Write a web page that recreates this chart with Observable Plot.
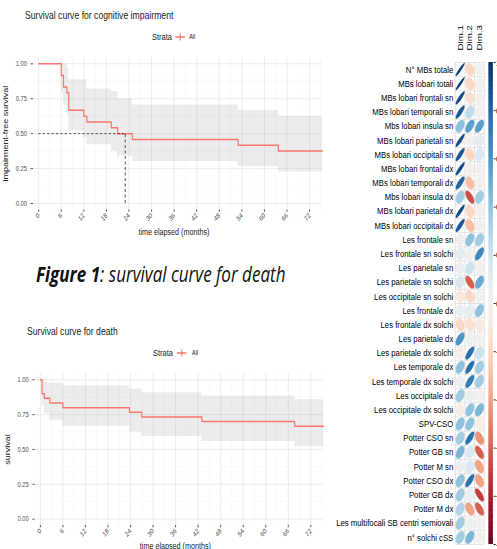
<!DOCTYPE html>
<html><head><meta charset="utf-8">
<script src="https://cdn.jsdelivr.net/npm/d3@7"></script>
<script src="https://cdn.jsdelivr.net/npm/@observablehq/plot@0.6"></script>
<style>
html,body{margin:0;padding:0;background:#fff;overflow:hidden;width:497px;height:549px;}
#stage{position:absolute;left:0;top:0;width:621.25px;height:549px;transform:scaleX(0.8);transform-origin:0 0;font-family:"Liberation Sans",Arial,sans-serif;}
.abs{position:absolute;white-space:nowrap;line-height:1;transform:translateY(-50%);}
.panel{position:absolute;}
</style></head><body><div id="stage"></div>
<script>
// ---------- data: survival curve for cognitive impairment ----------
const cogTimes = [0, 6.0, 6.6, 7.5, 8.0, 12.0, 12.8, 19.3, 21.0, 24.9, 53.0, 63.7];
const cogSurv  = [1, 0.917, 0.833, 0.792, 0.667, 0.625, 0.583, 0.542, 0.5, 0.458, 0.417, 0.375];
const cogUpper = [1, 1, 1, 0.97, 0.885, 0.885, 0.82, 0.80, 0.75, 0.705, 0.665, 0.625];
const cogLower = [1, 0.79, 0.70, 0.64, 0.52, 0.47, 0.42, 0.37, 0.34, 0.30, 0.265, 0.225];
const cogMedian = 23;
// ---------- data: survival curve for death ----------
const deathTimes = [0, 0.44, 1.06, 2.5, 6.0, 23.7, 27.0, 43.0, 67.7];
const deathSurv  = [1, 0.9, 0.867, 0.833, 0.8, 0.767, 0.733, 0.7, 0.667];
const deathUpper = [1, 1, 0.976, 0.976, 0.957, 0.933, 0.907, 0.883, 0.857];
const deathLower = [1, 0.81, 0.757, 0.71, 0.667, 0.626, 0.593, 0.557, 0.519];
const followUpEnd = 75.4;
// ---------- axis ticks ----------
const monthTicks = [0, 6, 12, 18, 24, 30, 36, 42, 48, 54, 60, 66, 72];
const monthMinor = [3, 9, 15, 21, 27, 33, 39, 45, 51, 57, 63, 69, 75];
const survTicks = [0, 0.25, 0.5, 0.75, 1];
const survMinor = [0.125, 0.375, 0.625, 0.875];
// ---------- data: correlation plot ----------
const rowLabels = ["N° MBs totale","MBs lobari totali","MBs lobari frontali sn","MBs lobari temporali sn","Mbs lobari insula sn","MBs lobari parietali sn","MBs lobari occipitali sn","MBs lobari frontali dx","MBs lobari temporali dx","Mbs lobari insula dx","MBs lobari parietali dx","MBs lobari occipitali dx","Les frontale sn","Les frontale sn solchi","Les parietale sn","Les parietale sn solchi","Les occipitale sn solchi","Les frontale dx","Les frontale dx solchi","Les parietale dx","Les parietale dx solchi","Les temporale dx","Les temporale dx solchi","Les occipitale dx","Les occipitale dx solchi","SPV-CSO","Potter CSO sn","Potter GB sn","Potter M sn","Potter CSO dx","Potter GB dx","Potter M dx","Les multifocali SB centri semiovali","n° solchi cSS"];
const dimLabels = ["Dim.1","Dim.2","Dim.3"];
const dim1 = [0.95,0.95,0.9,0.85,0.4,0.9,0.85,0.9,0.8,0.35,0.9,0.85,0.03,0.1,0.05,0.15,-0.1,0.05,-0.2,0.6,-0.05,0.4,0.05,0.35,-0.05,0.4,0.35,0.45,0.05,0.4,0.35,0.3,0.35,0.35];
const dim2 = [-0.2,-0.2,-0.15,0.25,0.55,0.0,-0.2,-0.05,-0.3,-0.65,-0.2,-0.3,0.4,0.03,0.2,-0.6,-0.2,0.1,-0.15,0.03,0.75,0.75,0.7,0.05,0.4,0.4,0.75,0.15,0.15,0.75,0.05,-0.4,0.02,0.45];
const dim3 = [0.0,0.0,0.0,0.02,0.55,0.1,0.15,0.0,0.0,0.35,0.0,0.0,0.35,0.65,0.0,0.5,0.0,0.4,-0.1,0.0,0.2,0.35,0.35,0.0,0.45,-0.05,-0.45,-0.6,-0.4,-0.4,-0.7,-0.6,0.0,0.0];
const barTicks = [-1,-0.8,-0.6,-0.4,-0.2,0,0.2,0.4,0.6,0.8,1];

const stage = document.getElementById("stage");
function addText(html, left, cy, style) {
  const d = document.createElement("div");
  d.className = "abs";
  d.style.left = left + "px"; d.style.top = cy + "px";
  d.style.cssText += style;
  d.innerHTML = html;
  stage.appendChild(d);
}
function addLegend(xStrata, xKey, xAll, cy) {
  addText("Strata", xStrata, cy, "font-size:9.4px;color:#222;");
  addText('<svg width="12.5" height="8" style="display:block"><line x1="0" x2="12.5" y1="4" y2="4" stroke="#F8766D" stroke-width="1.3"/><line x1="6.25" x2="6.25" y1="0.5" y2="7.5" stroke="#F8766D" stroke-width="1.3"/></svg>', xKey, cy, "");
  addText("All", xAll, cy, "font-size:6.8px;color:#222;");
}
function place(el, left, top) {
  el.classList.add("panel");
  el.style.left = left + "px"; el.style.top = top + "px";
  stage.appendChild(el);
}
const baseStyle = {fontFamily: "'Liberation Sans', Arial, sans-serif", fontSize: "7.2px", color: "#4d4d4d", background: "transparent", overflow: "visible"};

function survChart(o) {
  const rows = o.times.map((t, i) => ({t, s: o.surv[i], lo: o.lower[i], hi: o.upper[i]}));
  const last = rows[rows.length - 1];
  rows.push({t: followUpEnd, s: last.s, lo: last.lo, hi: last.hi});
  const marks = [
    Plot.ruleX(monthMinor, {stroke: "#f4f4f4", strokeWidth: 0.6}),
    Plot.ruleY(survMinor, {stroke: "#f4f4f4", strokeWidth: 0.6}),
    Plot.ruleX(monthTicks, {stroke: "#e9e9e9", strokeWidth: 0.9}),
    Plot.ruleY(survTicks, {stroke: "#e9e9e9", strokeWidth: 0.9}),
    Plot.areaY(rows, {x: "t", y1: "lo", y2: "hi", curve: "step-after", fill: "#a0a0a0", fillOpacity: 0.2}),
    Plot.line(rows, {x: "t", y: "s", curve: "step-after", stroke: "#F8766D", strokeWidth: 1.5})
  ];
  if (o.median != null) {
    marks.push(Plot.ruleY([0.5], {x1: 0, x2: o.median, stroke: "#333", strokeWidth: 0.9, strokeDasharray: "3,2.5"}));
    marks.push(Plot.ruleX([o.median], {y1: 0, y2: 0.5, stroke: "#333", strokeWidth: 0.9, strokeDasharray: "3,2.5"}));
  }
  marks.push(Plot.text(["time elapsed (months)"], {frameAnchor: "bottom", textAnchor: "middle", lineAnchor: "middle", dy: o.xlabDy, dx: -5, fontSize: 9, fill: "#222"}));
  marks.push(Plot.text([o.yLabel], {frameAnchor: "left", textAnchor: "middle", lineAnchor: "middle", rotate: -90, dx: o.ylabDx, fontSize: 9, fill: "#222"}));
  return Plot.plot({
    width: 412.5, height: 240,
    marginTop: o.mt, marginBottom: o.mb, marginLeft: o.ml, marginRight: o.mr,
    style: baseStyle,
    x: {domain: [-1.4, 75.4], ticks: monthTicks, tickFormat: d => String(d), tickRotate: -45, tickSize: 2.5, tickPadding: 2, label: null},
    y: {domain: [-0.045, 1.045], ticks: survTicks, tickFormat: d3.format(".2f"), tickSize: 3, tickPadding: 5, label: null},
    marks
  });
}

// Chart 1
addText("Survival curve for cognitive impairment", 31.25, 14.5, "font-size:10.8px;color:#222;");
addLegend(190, 219, 236.5, 37);
place(survChart({times: cogTimes, surv: cogSurv, upper: cogUpper, lower: cogLower, median: cogMedian,
  yLabel: "impairment-free survival", mt: 57, mb: 30.7, ml: 41.25, mr: 10, xlabDy: 22.7, ylabDx: -35}), 0, 0);

// Caption
addText("<b>Figure 1</b>: survival curve for death", 45, 274, "font-family:'Open Sans',sans-serif;font-style:italic;font-size:21.3px;color:#111;");

// Chart 2
addText("Survival curve for death", 33.75, 330.7, "font-size:10.8px;color:#222;");
addLegend(191.25, 220.5, 240, 352.7);
place(survChart({times: deathTimes, surv: deathSurv, upper: deathUpper, lower: deathLower, median: null,
  yLabel: "survival", mt: 53, mb: 35.1, ml: 43.4, mr: 8.5, xlabDy: 21.1, ylabDx: -34.6}), 0, 320);

// Correlation plot
const dims = [dim1, dim2, dim3];
const ellPts = [];
rowLabels.forEach((lab, i) => {
  dims.forEach((vals, j) => {
    const r = vals[i];
    const d = Math.acos(Math.max(-0.999, Math.min(0.999, r)));
    for (let k = 0; k < 48; k++) {
      const a = (k / 48) * 2 * Math.PI;
      ellPts.push({id: i + "-" + j, r, x: j + 0.5 + 0.45 * Math.cos(a + d / 2), y: i + 0.5 - 0.45 * Math.cos(a - d / 2)});
    }
  });
});
const colorScale = {type: "linear", domain: [-1, 1], scheme: "rdbu"};
const corr = Plot.plot({
  width: 200, height: 549, marginLeft: 155.6, marginRight: 8.1, marginTop: 62, marginBottom: 5,
  style: {...baseStyle, color: "#000", fontSize: "9.7px"},
  x: {domain: [0, 3], axis: null},
  y: {domain: [0, rowLabels.length], reverse: true, axis: null},
  color: colorScale,
  marks: [
    Plot.ruleX(d3.range(0, dimLabels.length + 1), {stroke: "#d6d6d6", strokeWidth: 0.8}),
    Plot.ruleY(d3.range(0, rowLabels.length + 1), {stroke: "#d6d6d6", strokeWidth: 0.8}),
    Plot.line(ellPts, {x: "x", y: "y", z: "id", fill: "r", stroke: "r", strokeWidth: 0.3, curve: "linear-closed"}),
    Plot.text(rowLabels, {x: 0, y: (d, i) => i + 0.5, text: d => d, textAnchor: "end", lineAnchor: "middle", dx: -2.5, fontSize: 9.7, fill: "#000"}),
    Plot.text(dimLabels, {x: (d, i) => i + 0.5, y: 0, text: d => d, rotate: -90, textAnchor: "start", lineAnchor: "middle", dy: -12, fontSize: 9.7, fill: "#000"})
  ]
});
place(corr, 412.5, 0);

const barSteps = d3.range(-1, 1, 0.01);
const bar = Plot.plot({
  width: 40, height: 549, marginLeft: 5.5, marginRight: 28.9, marginTop: 62, marginBottom: 5,
  style: {...baseStyle, color: "#000", fontSize: "9.7px"},
  x: {domain: [0, 1], axis: null},
  y: {domain: [-1, 1], axis: "right", ticks: barTicks, tickFormat: d => String(d), tickSize: 2.5, tickPadding: 1, label: null},
  color: colorScale,
  marks: [
    Plot.rect(barSteps, {x1: 0, x2: 1, y1: d => d, y2: d => Math.min(1, d + 0.012), fill: d => d + 0.005})
  ]
});
place(bar, 604.5, 0);
</script></body></html>
